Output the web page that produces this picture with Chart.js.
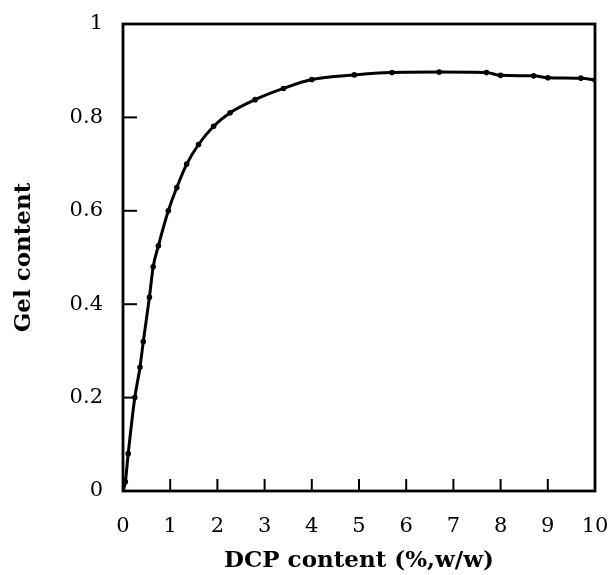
<!DOCTYPE html>
<html>
<head>
<meta charset="utf-8">
<script src="https://cdn.jsdelivr.net/npm/chart.js@4.4.0/dist/chart.umd.min.js"></script>
<style>
html,body{margin:0;padding:0;background:#fff;}
#wrap{width:609px;height:575px;position:relative;}
</style>
</head>
<body>
<div id="wrap"><canvas id="c" width="609" height="575"></canvas></div>
<script>
const dcpContent = [0, 0.05, 0.11, 0.25, 0.36, 0.43, 0.56, 0.64, 0.75, 0.96, 1.14, 1.35, 1.6, 1.92, 2.27, 2.8, 3.4, 4.0, 4.9, 5.7, 6.7, 7.7, 8.0, 8.7, 9.0, 9.7, 10];
const gelContent = [0, 0.02, 0.08, 0.20, 0.265, 0.32, 0.415, 0.48, 0.525, 0.60, 0.65, 0.70, 0.742, 0.781, 0.81, 0.838, 0.862, 0.881, 0.891, 0.896, 0.897, 0.896, 0.890, 0.889, 0.885, 0.884, 0.880];
const xTicks = [0,1,2,3,4,5,6,7,8,9,10];
const yTicks = [0,0.2,0.4,0.6,0.8,1];
const yTickLabels = ['0','0.2','0.4','0.6','0.8','1'];

const points = dcpContent.map((x,i)=>({x:x, y:gelContent[i]}));

const frame = {
  id:'frame',
  afterDraw(chart){
    const {ctx, chartArea:a, scales} = chart;
    ctx.save();
    ctx.strokeStyle='#000';
    ctx.lineWidth=2.8;
    ctx.strokeRect(a.left, a.top, a.right-a.left, a.bottom-a.top);
    ctx.lineWidth=2;
    xTicks.forEach(v=>{
      if(v===0||v===10) return;
      const px = scales.x.getPixelForValue(v);
      ctx.beginPath(); ctx.moveTo(px, a.bottom); ctx.lineTo(px, a.bottom-12); ctx.stroke();
    });
    yTicks.forEach(v=>{
      if(v===0||v===1) return;
      const py = scales.y.getPixelForValue(v);
      ctx.beginPath(); ctx.moveTo(a.left, py); ctx.lineTo(a.left+14, py); ctx.stroke();
    });
    ctx.restore();
  }
};

const serif = '"DejaVu Serif", "Liberation Serif", serif';

new Chart(document.getElementById('c'), {
  type:'line',
  data:{datasets:[{
    data:points,
    borderColor:'#000',
    backgroundColor:'#000',
    borderWidth:3,
    pointRadius:1.3,
    pointHoverRadius:1.3,
    cubicInterpolationMode:'monotone',
    fill:false
  }]},
  options:{
    responsive:false,
    animation:false,
    devicePixelRatio:1,
    layout:{padding:{left:10,right:14,top:24,bottom:0}},
    plugins:{legend:{display:false},tooltip:{enabled:false}},
    scales:{
      x:{
        type:'linear', min:0, max:10,
        afterBuildTicks(s){ s.ticks = xTicks.map(v=>({value:v})); },
        afterFit(s){ s.height = 84; s.paddingLeft = 0; s.paddingRight = 0; },
        grid:{display:false, drawTicks:false},
        border:{display:false},
        ticks:{color:'#000', padding:23, maxRotation:0, autoSkip:false,
          font:{family:serif, size:21}},
        title:{display:true, text:'DCP content (%,w/w)', color:'#000', padding:{top:0,bottom:0},
          font:{family:serif, size:23, weight:'bold'}}
      },
      y:{
        type:'linear', min:0, max:1,
        afterBuildTicks(s){ s.ticks = yTicks.map(v=>({value:v})); },
        afterFit(s){ s.width = 113; s.paddingTop = 0; s.paddingBottom = 0; },
        grid:{display:false, drawTicks:false},
        border:{display:false},
        ticks:{color:'#000', padding:20, autoSkip:false,
          callback:(v)=>{const i=yTicks.indexOf(v); return i>=0?yTickLabels[i]:'';},
          font:{family:serif, size:21}},
        title:{display:true, text:'Gel content', color:'#000', padding:{top:0,bottom:0},
          font:{family:serif, size:23, weight:'bold'}}
      }
    }
  },
  plugins:[frame]
});
</script>
</body>
</html>
